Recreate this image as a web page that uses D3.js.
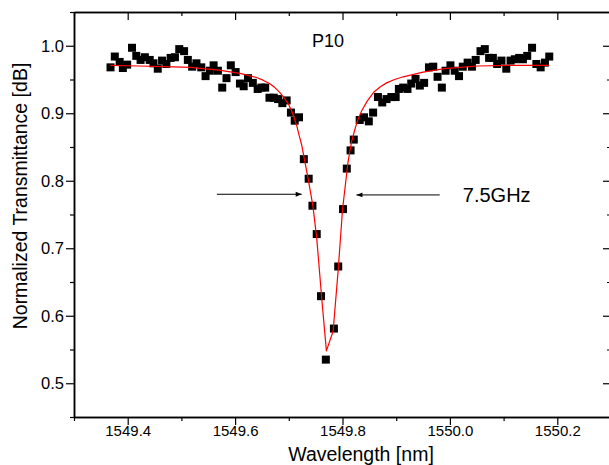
<!DOCTYPE html>
<html>
<head>
<meta charset="utf-8">
<script src="https://cdn.jsdelivr.net/npm/d3@7"></script>
<style>
  html, body { margin: 0; padding: 0; background: #fff; }
  svg { display: block; }
  text { font-family: Arial, "Liberation Sans", sans-serif; fill: #000; }
</style>
</head>
<body>
<svg id="chart" width="609" height="465"></svg>
<script>
// ---- data ----
const wavelength = [
  1549.368, 1549.376, 1549.385, 1549.391, 1549.399, 1549.408, 1549.416, 1549.424, 1549.432, 1549.441,
  1549.448, 1549.456, 1549.464, 1549.472, 1549.480, 1549.488, 1549.496, 1549.505, 1549.512, 1549.520,
  1549.528, 1549.537, 1549.545, 1549.553, 1549.560, 1549.568, 1549.576, 1549.584, 1549.592, 1549.601,
  1549.609, 1549.616, 1549.624, 1549.633, 1549.642, 1549.649, 1549.656, 1549.664, 1549.672, 1549.680,
  1549.688, 1549.696, 1549.704, 1549.711, 1549.719, 1549.728, 1549.737, 1549.744, 1549.752, 1549.760,
  1549.769, 1549.784, 1549.792, 1549.801, 1549.808, 1549.815, 1549.821, 1549.832, 1549.840, 1549.849,
  1549.857, 1549.866, 1549.874, 1549.882, 1549.891, 1549.899, 1549.905, 1549.913, 1549.921, 1549.928,
  1549.936, 1549.944, 1549.952, 1549.961, 1549.969, 1549.977, 1549.985, 1549.992, 1550.001, 1550.009,
  1550.017, 1550.024, 1550.033, 1550.041, 1550.048, 1550.057, 1550.065, 1550.073, 1550.080, 1550.088,
  1550.096, 1550.105, 1550.113, 1550.121, 1550.129, 1550.136, 1550.144, 1550.153, 1550.161, 1550.169,
  1550.177, 1550.185
];
const transmittance = [
  0.968, 0.984, 0.976, 0.967, 0.972, 0.997, 0.985, 0.979, 0.983, 0.979,
  0.974, 0.966, 0.978, 0.973, 0.982, 0.983, 0.995, 0.992, 0.979, 0.969,
  0.974, 0.968, 0.955, 0.963, 0.971, 0.963, 0.938, 0.952, 0.971, 0.961,
  0.944, 0.940, 0.952, 0.945, 0.936, 0.938, 0.938, 0.923, 0.923, 0.921,
  0.915, 0.919, 0.901, 0.889, 0.894, 0.832, 0.803, 0.763, 0.721, 0.629,
  0.535, 0.581, 0.673, 0.758, 0.818, 0.845, 0.861, 0.890, 0.894, 0.888,
  0.901, 0.924, 0.916, 0.921, 0.924, 0.924, 0.936, 0.938, 0.936, 0.944,
  0.951, 0.941, 0.945, 0.968, 0.969, 0.954, 0.938, 0.963, 0.971, 0.963,
  0.955, 0.969, 0.975, 0.969, 0.979, 0.992, 0.995, 0.982, 0.982, 0.973,
  0.978, 0.966, 0.978, 0.980, 0.982, 0.980, 0.985, 0.997, 0.973, 0.968,
  0.975, 0.984
];
// fitted curve
const fitWavelength = [
  1549.368, 1549.420, 1549.470, 1549.516, 1549.570, 1549.609, 1549.640, 1549.652, 1549.664, 1549.674,
  1549.683, 1549.691, 1549.699, 1549.705, 1549.710, 1549.715, 1549.719, 1549.724, 1549.728, 1549.736,
  1549.745, 1549.752, 1549.761, 1549.770, 1549.7825, 1549.792, 1549.800, 1549.810, 1549.814, 1549.817,
  1549.822, 1549.826, 1549.831, 1549.836, 1549.846, 1549.858, 1549.870, 1549.882, 1549.897, 1549.913,
  1549.950, 1549.990, 1550.052, 1550.120, 1550.185
];
const fitTransmittance = [
  0.971, 0.970, 0.969, 0.968, 0.964, 0.959, 0.953, 0.949, 0.944, 0.938,
  0.931, 0.923, 0.914, 0.904, 0.893, 0.881, 0.868, 0.853, 0.836, 0.803,
  0.762, 0.715, 0.629, 0.548, 0.577, 0.668, 0.757, 0.826, 0.845, 0.858,
  0.873, 0.884, 0.895, 0.904, 0.918, 0.931, 0.939, 0.945, 0.950, 0.954,
  0.961, 0.966, 0.970, 0.971, 0.971
];
const xMajorTicks = [1549.4, 1549.6, 1549.8, 1550.0, 1550.2];
const xTickLabels = ["1549.4", "1549.6", "1549.8", "1550.0", "1550.2"];
const xMinorTicks = [1549.3, 1549.5, 1549.7, 1549.9, 1550.1, 1550.3];
const yMajorTicks = [0.5, 0.6, 0.7, 0.8, 0.9, 1.0];
const yTickLabels = ["0.5", "0.6", "0.7", "0.8", "0.9", "1.0"];
const yMinorTicks = [0.45, 0.55, 0.65, 0.75, 0.85, 0.95, 1.05];
const xTitle = "Wavelength [nm]";
const yTitle = "Normalized Transmittance [dB]";
const sampleLabel = "P10";
const widthLabel = "7.5GHz";

// ---- layout ----
const svg = d3.select("#chart");
const L = 74, R = 611, T = 12, B = 417;
const x = d3.scaleLinear().domain([1549.3, 1550.3]).range([L, R]);
const y = d3.scaleLinear().domain([0.45, 1.05]).range([B, T]);

const axisColor = "#000";
const FONT = "Arial, 'Liberation Sans', sans-serif";

// bottom axis
const gB = svg.append("g").attr("transform", `translate(0,${B})`);
gB.call(d3.axisBottom(x).tickValues(xMajorTicks).tickSize(8).tickSizeOuter(0)
  .tickFormat((d, i) => xTickLabels[i]));
gB.append("g").call(d3.axisBottom(x).tickValues(xMinorTicks).tickSize(4).tickSizeOuter(0).tickFormat(""));
// top axis (inward)
const gT = svg.append("g").attr("transform", `translate(0,${T})`);
gT.call(d3.axisTop(x).tickValues(xMajorTicks).tickSize(-8).tickSizeOuter(0).tickFormat(""));
gT.append("g").call(d3.axisTop(x).tickValues(xMinorTicks).tickSize(-4).tickSizeOuter(0).tickFormat(""));
// left axis
const gL = svg.append("g").attr("transform", `translate(${L},0)`);
gL.call(d3.axisLeft(y).tickValues(yMajorTicks).tickSize(8).tickSizeOuter(0)
  .tickFormat((d, i) => yTickLabels[i]));
gL.append("g").call(d3.axisLeft(y).tickValues(yMinorTicks).tickSize(4).tickSizeOuter(0).tickFormat(""));
// right axis (inward)
const gR = svg.append("g").attr("transform", `translate(${R},0)`);
gR.call(d3.axisRight(y).tickValues(yMajorTicks).tickSize(-8).tickSizeOuter(0).tickFormat(""));
gR.append("g").call(d3.axisRight(y).tickValues(yMinorTicks).tickSize(-4).tickSizeOuter(0).tickFormat(""));

svg.selectAll(".domain").attr("stroke", axisColor).attr("stroke-width", 1.5);
svg.selectAll(".tick line").attr("stroke", axisColor).attr("stroke-width", 1.2);
gB.selectAll(".tick text").attr("font-size", 15).attr("dy", "0.55em")
  .attr("font-family", FONT);
gL.selectAll(".tick text").attr("font-size", 16.5).attr("x", -10)
  .attr("font-family", FONT);

// data markers
const pts = wavelength.map((w, i) => ({ w, t: transmittance[i] }));
const s = 8;
svg.append("g").selectAll("rect").data(pts).join("rect")
  .attr("x", d => x(d.w) - s / 2).attr("y", d => y(d.t) - s / 2)
  .attr("width", s).attr("height", s).attr("fill", "#000");

// fit curve
const fit = fitWavelength.map((w, i) => ({ w, t: fitTransmittance[i] }));
svg.append("path").datum(fit)
  .attr("d", d3.line().x(d => x(d.w)).y(d => y(d.t)))
  .attr("fill", "none").attr("stroke", "#ff0000").attr("stroke-width", 1.2)
  .attr("stroke-linejoin", "round");

// arrows
const defs = svg.append("defs");
defs.append("marker").attr("id", "ah").attr("viewBox", "0 0 10 10")
  .attr("refX", 10).attr("refY", 5).attr("markerWidth", 9).attr("markerHeight", 6)
  .attr("markerUnits", "userSpaceOnUse").attr("orient", "auto")
  .append("path").attr("d", "M0,1 L10,5 L0,9 Z").attr("fill", "#000");
svg.append("line")
  .attr("x1", x(1549.566)).attr("x2", x(1549.724))
  .attr("y1", y(0.780)).attr("y2", y(0.780))
  .attr("stroke", "#000").attr("stroke-width", 1).attr("marker-end", "url(#ah)");
svg.append("line")
  .attr("x1", x(1549.981)).attr("x2", x(1549.826))
  .attr("y1", y(0.779)).attr("y2", y(0.779))
  .attr("stroke", "#000").attr("stroke-width", 1).attr("marker-end", "url(#ah)");

// annotations
svg.append("text").attr("x", x(1550.024)).attr("y", y(0.768))
  .attr("font-size", 20).text(widthLabel);
svg.append("text").attr("x", x(1549.743)).attr("y", y(0.9985))
  .attr("font-size", 18).text(sampleLabel);

// axis titles
svg.append("text").attr("x", 361).attr("y", 461).attr("text-anchor", "middle")
  .attr("font-size", 19.5).text(xTitle);
svg.append("text").attr("transform", "translate(27,196) rotate(-90)")
  .attr("text-anchor", "middle").attr("font-size", 19.5).text(yTitle);
</script>
</body>
</html>
